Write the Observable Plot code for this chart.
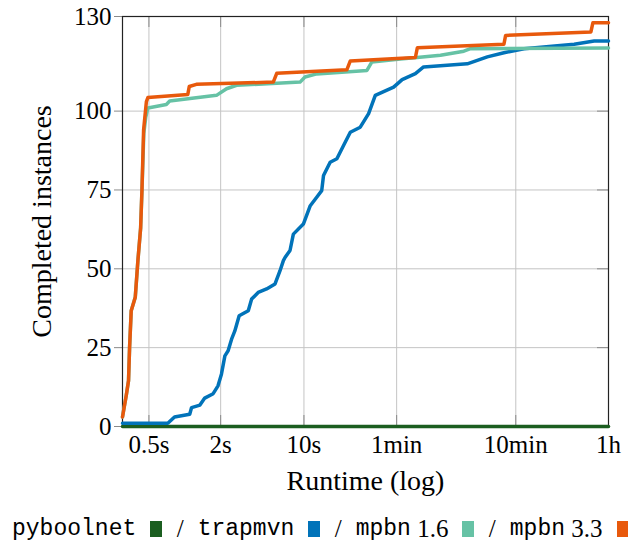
<!DOCTYPE html>
<html><head><meta charset="utf-8">
<script src="https://cdn.jsdelivr.net/npm/d3@7"></script>
<script src="https://cdn.jsdelivr.net/npm/@observablehq/plot@0.6"></script>
<style>
body{margin:0;background:#fff;}
#legend{height:45px;padding-top:4px;display:flex;justify-content:center;align-items:center;white-space:nowrap;font-family:"Liberation Serif",serif;font-size:25px;color:#000;padding-left:12px;}
#legend .tt{font-family:"Liberation Mono",monospace;font-size:23px;}
#legend .sw{display:inline-block;width:15px;height:16px;margin:0 15px 0 14px;}
#legend .sep{margin-right:14px;}
</style></head><body><div id="chart"></div><div id="legend"></div>
<script>
const seriesNames = ["pyboolnet", "trapmvn", "mpbn 1.6", "mpbn 3.3"];
const seriesColors = ["#1b5e20", "#0173b9", "#66c2a5", "#e8590c"];
const xTicks = [0.5, 2, 10, 60, 600, 3600];
const xTickLabels = ["0.5s", "2s", "10s", "1min", "10min", "1h"];
const yTicks = [0, 25, 50, 75, 100, 130];

const pyboolnetT = [0.3, 3600];
const pyboolnetN = [0, 0];
const trapmvnT = [0.3, 0.72, 0.82, 1.10, 1.14, 1.34, 1.47, 1.73, 1.90, 2.03, 2.17, 2.31, 2.47, 2.63, 2.86, 3.41, 3.64, 4.13, 4.86, 5.72, 6.3, 6.72, 6.94, 7.64, 8.15, 9.89, 11.3, 12.8, 14.1, 14.6, 16.6, 18.9, 21.5, 24.5, 29.7, 34.9, 39.7, 56.6, 66.7, 86.2, 101, 235, 346, 477, 703, 1854, 2729, 3600];
const trapmvnN = [1, 1, 3, 3.9, 6, 6.8, 9, 10.4, 12.9, 16.6, 22.4, 24, 27.7, 30.3, 35.1, 36.7, 40.4, 42.5, 43.6, 45.2, 49.4, 52.6, 53.6, 55.8, 61, 64.2, 70, 72.7, 74.8, 79.6, 83.8, 84.9, 89.1, 93.3, 94.9, 99.2, 105, 107.6, 110, 111.9, 114, 115, 117.2, 118.5, 119.8, 121.2, 122.2, 122.2];
const mpbn16T = [0.3, 0.323, 0.337, 0.344, 0.355, 0.384, 0.404, 0.426, 0.437, 0.453, 0.47, 0.49, 0.70, 0.747, 1.845, 2.24, 2.72, 9.28, 10.2, 12.8, 33.8, 37.2, 64.4, 89, 140, 220, 250, 3600];
const mpbn16N = [3, 10, 14.5, 25, 36.7, 41, 52.6, 63, 75, 93, 98, 101, 102.1, 103.2, 105, 107.1, 108.2, 109.2, 110.8, 111.8, 112.9, 115.6, 116.5, 117, 117.7, 119, 119.8, 120];
const mpbn33T = [0.3, 0.323, 0.337, 0.344, 0.355, 0.384, 0.404, 0.426, 0.437, 0.451, 0.476, 0.49, 1.06, 1.09, 1.25, 5.53, 5.91, 22.9, 24.5, 86.2, 89.5, 477, 493, 2562, 2662, 3600];
const mpbn33N = [3, 10, 14.5, 25, 36.7, 41, 52.6, 63, 75, 94, 103, 104.3, 105.3, 107.8, 108.5, 109.2, 112, 113.1, 115.9, 117, 120.1, 121.2, 124, 125.1, 128, 128];

const seriesT = [pyboolnetT, trapmvnT, mpbn16T, mpbn33T];
const seriesN = [pyboolnetN, trapmvnN, mpbn16N, mpbn33N];
const data = seriesNames.flatMap((s, k) => seriesT[k].map((t, i) => ({series: s, t, n: seriesN[k][i]})));
const fmt = new Map(xTicks.map((t, i) => [t, xTickLabels[i]]));

const serif = "'Liberation Serif', serif";
const chart = Plot.plot({
  width: 643, height: 502,
  marginLeft: 122, marginRight: 35, marginTop: 16, marginBottom: 76,
  style: {fontFamily: serif, fontSize: "24px", background: "white", color: "black"},
  x: {type: "log", domain: [0.3, 3600], axis: null},
  y: {domain: [0, 130]},
  color: {domain: seriesNames, range: seriesColors},
  marks: [
    Plot.gridX(xTicks, {stroke: "#c4c4c4", strokeOpacity: 1, strokeWidth: 1}),
    Plot.gridY(yTicks, {stroke: "#c4c4c4", strokeOpacity: 1, strokeWidth: 1}),
    Plot.ruleX(xTicks, {insetTop: 399, stroke: "#8a8a8a", strokeWidth: 1}),
    Plot.ruleX(xTicks, {insetBottom: 399, stroke: "#8a8a8a", strokeWidth: 1}),
    Plot.ruleY(yTicks, {insetLeft: 475, stroke: "#8a8a8a", strokeWidth: 1}),
    Plot.text(xTicks, {x: d => d, text: d => fmt.get(d), frameAnchor: "bottom", lineAnchor: "top", dy: 9, fontSize: 25, fontFamily: serif}),
    Plot.axisY(yTicks, {anchor: "left", tickSize: 8, tickPadding: 3, stroke: "#8a8a8a", label: null, fontSize: 25, fontFamily: serif}),
    Plot.frame({stroke: "#222", strokeWidth: 1.2}),
    Plot.line(data, {x: "t", y: "n", z: "series", stroke: "series", strokeWidth: 3.5, strokeLinejoin: "round"}),
    Plot.text(["Runtime (log)"], {text: d => d, frameAnchor: "bottom", dy: 63, fontSize: 28, fontFamily: serif}),
    Plot.text(["Completed instances"], {text: d => d, frameAnchor: "left", textAnchor: "middle", dx: -80, rotate: -90, fontSize: 28, fontFamily: serif})
  ]
});
document.getElementById("chart").appendChild(chart);

const legend = document.getElementById("legend");
seriesNames.forEach((name, i) => {
  if (i > 0) {
    const sep = document.createElement("span");
    sep.className = "sep"; sep.textContent = "/";
    legend.appendChild(sep);
  }
  const parts = name.split(" ");
  const tt = document.createElement("span");
  tt.className = "tt"; tt.textContent = parts[0];
  legend.appendChild(tt);
  if (parts[1]) {
    const v = document.createElement("span");
    v.textContent = "\u00a0" + parts[1];
    legend.appendChild(v);
  }
  const sw = document.createElement("span");
  sw.className = "sw"; sw.style.background = seriesColors[i];
  legend.appendChild(sw);
});
</script></body></html>
